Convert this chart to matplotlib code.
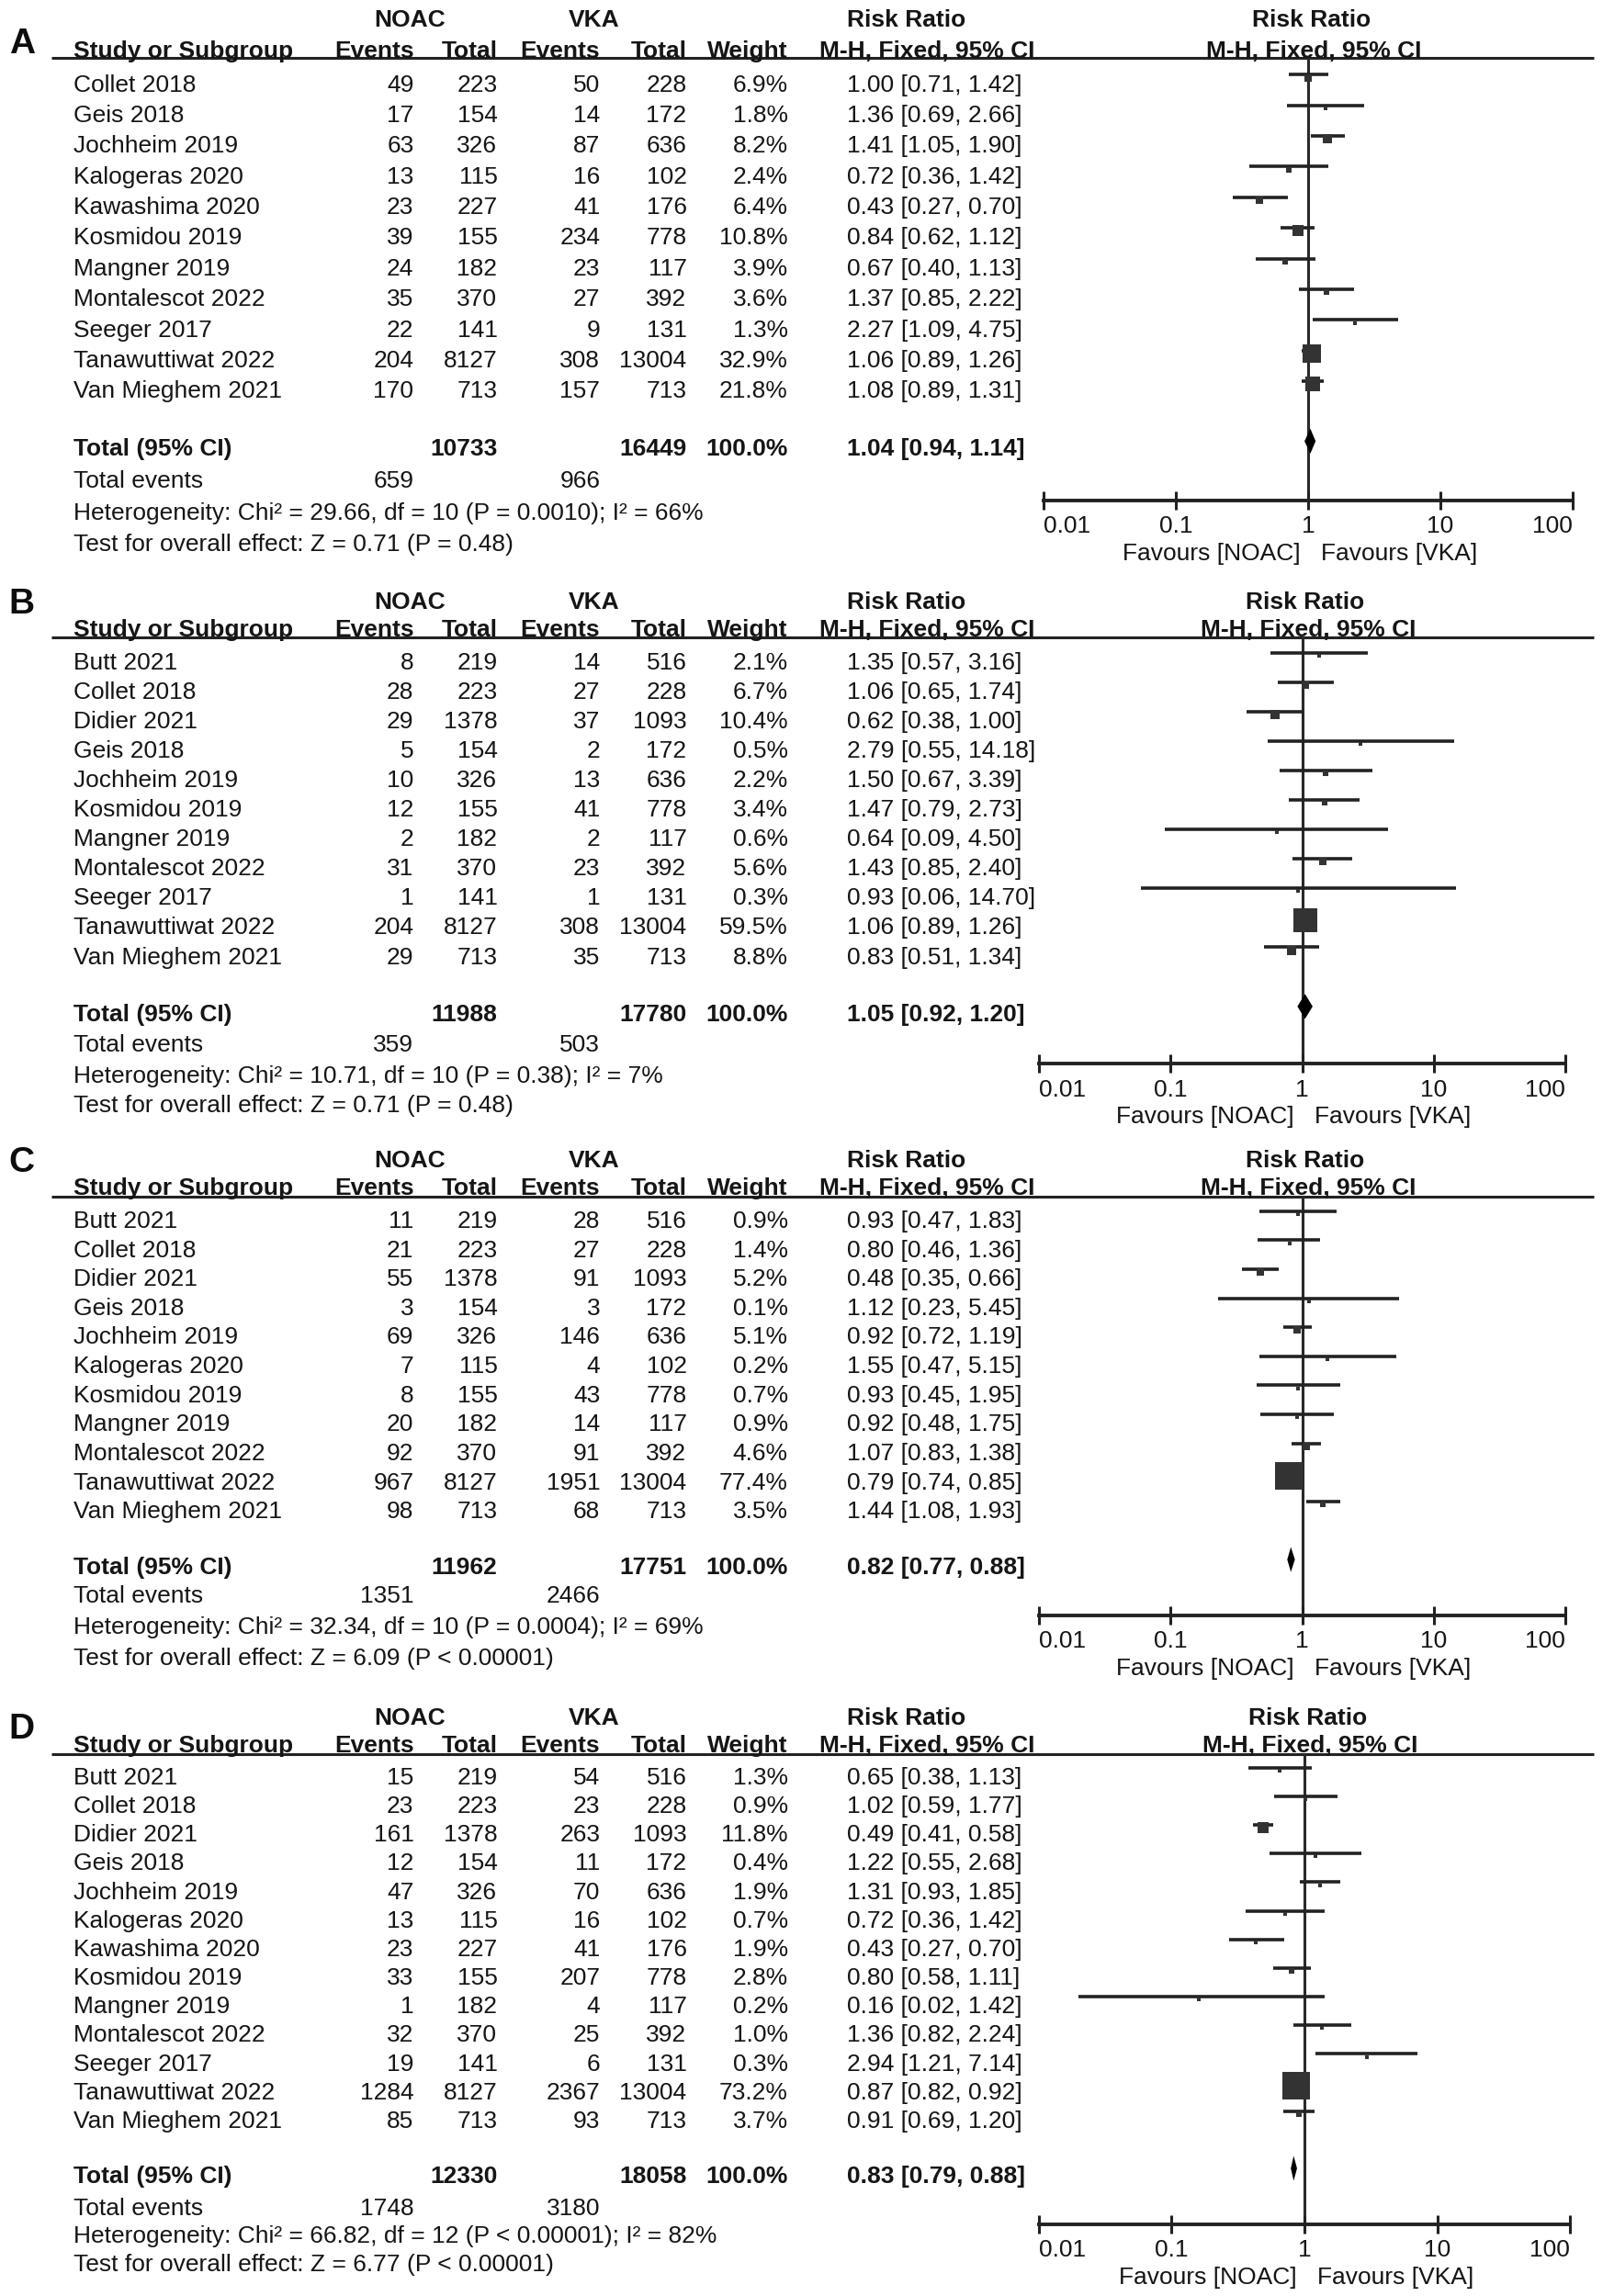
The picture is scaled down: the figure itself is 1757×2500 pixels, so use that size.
import numpy as np
import matplotlib
matplotlib.use("Agg")
import matplotlib.pyplot as plt

plt.rcParams['font.family'] = ['Liberation Sans', 'DejaVu Sans']

# ---------------- DATA ----------------
# Panel A
a_studies = ["Collet 2018", "Geis 2018", "Jochheim 2019", "Kalogeras 2020", "Kawashima 2020",
             "Kosmidou 2019", "Mangner 2019", "Montalescot 2022", "Seeger 2017",
             "Tanawuttiwat 2022", "Van Mieghem 2021"]
a_ev_noac = [49, 17, 63, 13, 23, 39, 24, 35, 22, 204, 170]
a_n_noac = [223, 154, 326, 115, 227, 155, 182, 370, 141, 8127, 713]
a_ev_vka = [50, 14, 87, 16, 41, 234, 23, 27, 9, 308, 157]
a_n_vka = [228, 172, 636, 102, 176, 778, 117, 392, 131, 13004, 713]
a_weight = [6.9, 1.8, 8.2, 2.4, 6.4, 10.8, 3.9, 3.6, 1.3, 32.9, 21.8]
a_rr = [1.00, 1.36, 1.41, 0.72, 0.43, 0.84, 0.67, 1.37, 2.27, 1.06, 1.08]
a_lo = [0.71, 0.69, 1.05, 0.36, 0.27, 0.62, 0.40, 0.85, 1.09, 0.89, 0.89]
a_hi = [1.42, 2.66, 1.90, 1.42, 0.70, 1.12, 1.13, 2.22, 4.75, 1.26, 1.31]
a_total_n = [10733, 16449]
a_total_ev = [659, 966]
a_total_rr = [1.04, 0.94, 1.14]
a_het = "Heterogeneity: Chi² = 29.66, df = 10 (P = 0.0010); I² = 66%"
a_test = "Test for overall effect: Z = 0.71 (P = 0.48)"

# Panel B
b_studies = ["Butt 2021", "Collet 2018", "Didier 2021", "Geis 2018", "Jochheim 2019",
             "Kosmidou 2019", "Mangner 2019", "Montalescot 2022", "Seeger 2017",
             "Tanawuttiwat 2022", "Van Mieghem 2021"]
b_ev_noac = [8, 28, 29, 5, 10, 12, 2, 31, 1, 204, 29]
b_n_noac = [219, 223, 1378, 154, 326, 155, 182, 370, 141, 8127, 713]
b_ev_vka = [14, 27, 37, 2, 13, 41, 2, 23, 1, 308, 35]
b_n_vka = [516, 228, 1093, 172, 636, 778, 117, 392, 131, 13004, 713]
b_weight = [2.1, 6.7, 10.4, 0.5, 2.2, 3.4, 0.6, 5.6, 0.3, 59.5, 8.8]
b_rr = [1.35, 1.06, 0.62, 2.79, 1.50, 1.47, 0.64, 1.43, 0.93, 1.06, 0.83]
b_lo = [0.57, 0.65, 0.38, 0.55, 0.67, 0.79, 0.09, 0.85, 0.06, 0.89, 0.51]
b_hi = [3.16, 1.74, 1.00, 14.18, 3.39, 2.73, 4.50, 2.40, 14.70, 1.26, 1.34]
b_total_n = [11988, 17780]
b_total_ev = [359, 503]
b_total_rr = [1.05, 0.92, 1.20]
b_het = "Heterogeneity: Chi² = 10.71, df = 10 (P = 0.38); I² = 7%"
b_test = "Test for overall effect: Z = 0.71 (P = 0.48)"

# Panel C
c_studies = ["Butt 2021", "Collet 2018", "Didier 2021", "Geis 2018", "Jochheim 2019",
             "Kalogeras 2020", "Kosmidou 2019", "Mangner 2019", "Montalescot 2022",
             "Tanawuttiwat 2022", "Van Mieghem 2021"]
c_ev_noac = [11, 21, 55, 3, 69, 7, 8, 20, 92, 967, 98]
c_n_noac = [219, 223, 1378, 154, 326, 115, 155, 182, 370, 8127, 713]
c_ev_vka = [28, 27, 91, 3, 146, 4, 43, 14, 91, 1951, 68]
c_n_vka = [516, 228, 1093, 172, 636, 102, 778, 117, 392, 13004, 713]
c_weight = [0.9, 1.4, 5.2, 0.1, 5.1, 0.2, 0.7, 0.9, 4.6, 77.4, 3.5]
c_rr = [0.93, 0.80, 0.48, 1.12, 0.92, 1.55, 0.93, 0.92, 1.07, 0.79, 1.44]
c_lo = [0.47, 0.46, 0.35, 0.23, 0.72, 0.47, 0.45, 0.48, 0.83, 0.74, 1.08]
c_hi = [1.83, 1.36, 0.66, 5.45, 1.19, 5.15, 1.95, 1.75, 1.38, 0.85, 1.93]
c_total_n = [11962, 17751]
c_total_ev = [1351, 2466]
c_total_rr = [0.82, 0.77, 0.88]
c_het = "Heterogeneity: Chi² = 32.34, df = 10 (P = 0.0004); I² = 69%"
c_test = "Test for overall effect: Z = 6.09 (P < 0.00001)"

# Panel D
d_studies = ["Butt 2021", "Collet 2018", "Didier 2021", "Geis 2018", "Jochheim 2019",
             "Kalogeras 2020", "Kawashima 2020", "Kosmidou 2019", "Mangner 2019",
             "Montalescot 2022", "Seeger 2017", "Tanawuttiwat 2022", "Van Mieghem 2021"]
d_ev_noac = [15, 23, 161, 12, 47, 13, 23, 33, 1, 32, 19, 1284, 85]
d_n_noac = [219, 223, 1378, 154, 326, 115, 227, 155, 182, 370, 141, 8127, 713]
d_ev_vka = [54, 23, 263, 11, 70, 16, 41, 207, 4, 25, 6, 2367, 93]
d_n_vka = [516, 228, 1093, 172, 636, 102, 176, 778, 117, 392, 131, 13004, 713]
d_weight = [1.3, 0.9, 11.8, 0.4, 1.9, 0.7, 1.9, 2.8, 0.2, 1.0, 0.3, 73.2, 3.7]
d_rr = [0.65, 1.02, 0.49, 1.22, 1.31, 0.72, 0.43, 0.80, 0.16, 1.36, 2.94, 0.87, 0.91]
d_lo = [0.38, 0.59, 0.41, 0.55, 0.93, 0.36, 0.27, 0.58, 0.02, 0.82, 1.21, 0.82, 0.69]
d_hi = [1.13, 1.77, 0.58, 2.68, 1.85, 1.42, 0.70, 1.11, 1.42, 2.24, 7.14, 0.92, 1.20]
d_total_n = [12330, 18058]
d_total_ev = [1748, 3180]
d_total_rr = [0.83, 0.79, 0.88]
d_het = "Heterogeneity: Chi² = 66.82, df = 12 (P < 0.00001); I² = 82%"
d_test = "Test for overall effect: Z = 6.77 (P < 0.00001)"

tick_vals = [0.01, 0.1, 1, 10, 100]
tick_labels = ["0.01", "0.1", "1", "10", "100"]

panels = [
    ("A", a_studies, a_ev_noac, a_n_noac, a_ev_vka, a_n_vka, a_weight, a_rr, a_lo, a_hi,
     a_total_n, a_total_ev, a_total_rr, a_het, a_test),
    ("B", b_studies, b_ev_noac, b_n_noac, b_ev_vka, b_n_vka, b_weight, b_rr, b_lo, b_hi,
     b_total_n, b_total_ev, b_total_rr, b_het, b_test),
    ("C", c_studies, c_ev_noac, c_n_noac, c_ev_vka, c_n_vka, c_weight, c_rr, c_lo, c_hi,
     c_total_n, c_total_ev, c_total_rr, c_het, c_test),
    ("D", d_studies, d_ev_noac, d_n_noac, d_ev_vka, d_n_vka, d_weight, d_rr, d_lo, d_hi,
     d_total_n, d_total_ev, d_total_rr, d_het, d_test),
]

# ---------------- LAYOUT (reference units: 1100 x 1565) ----------------
W, H = 1100.0, 1565.0
layout = [
    dict(gh=12.5, ch=33.4, line=39.5, row0=56.4, step=20.9, total=304.7, tev=326.7,
         het=348.6, test=369.4, axis=341.0, fl=711.0, fr=1072.0, let=36.0),
    dict(gh=409.0, ch=428.0, line=434.5, row0=450.6, step=20.05, total=690.0, tev=711.0,
         het=732.0, test=752.0, axis=725.0, fl=708.0, fr=1067.0, let=418.0),
    dict(gh=790.0, ch=808.5, line=815.5, row0=831.0, step=19.8, total=1067.0, tev=1086.5,
         het=1108.0, test=1129.0, axis=1101.0, fl=708.0, fr=1067.0, let=799.0),
    dict(gh=1169.7, ch=1188.5, line=1195.5, row0=1210.3, step=19.52, total=1482.0, tev=1504.0,
         het=1523.0, test=1542.4, axis=1516.0, fl=708.0, fr=1070.0, let=1185.0),
]

FS = 19
TXT = "#151515"
MARK = "#333333"
BASE = 5.9   # baseline offset from text centre

X_NAME = 50
X_EV1 = 282
X_N1 = 339
X_EV2 = 409
X_N2 = 468
X_W = 537
X_CI = 577

fig = plt.figure(figsize=(17.57, 25.0), dpi=100)
bg = fig.add_axes([0, 0, 1, 1])
bg.set_xlim(0, W)
bg.set_ylim(H, 0)
bg.axis("off")


def t(x, y, s, ha="left", bold=False, size=FS):
    bg.text(x, y + BASE, s, ha=ha, va="baseline", fontsize=size,
            fontweight="bold" if bold else "normal", color=TXT)


for (letter, studies, ev1, n1, ev2, n2, wt, rr, lo, hi, tot_n, tot_ev, tot_rr, het, test), L in zip(panels, layout):
    fc = L["fl"] + (L["fr"] - L["fl"]) / 2.0  # position of RR = 1
    # panel letter
    bg.text(6, L["let"], letter, ha="left", va="baseline", fontsize=28,
            fontweight="bold", color="#0d0d0d")
    # group headers
    t(279, L["gh"], "NOAC", ha="center", bold=True)
    t(405, L["gh"], "VKA", ha="center", bold=True)
    t(618, L["gh"], "Risk Ratio", ha="center", bold=True)
    t(fc + 2, L["gh"], "Risk Ratio", ha="center", bold=True)
    # column headers
    t(X_NAME, L["ch"], "Study or Subgroup", bold=True)
    t(X_EV1, L["ch"], "Events", ha="right", bold=True)
    t(X_N1, L["ch"], "Total", ha="right", bold=True)
    t(X_EV2, L["ch"], "Events", ha="right", bold=True)
    t(X_N2, L["ch"], "Total", ha="right", bold=True)
    t(X_W, L["ch"], "Weight", ha="right", bold=True)
    t(632, L["ch"], "M-H, Fixed, 95% CI", ha="center", bold=True)
    t(fc + 4, L["ch"], "M-H, Fixed, 95% CI", ha="center", bold=True)
    bg.plot([35, 1086], [L["line"], L["line"]], color="#222222", lw=2.2,
            solid_capstyle="butt")

    # study rows
    ys = [L["row0"] + i * L["step"] for i in range(len(studies))]
    for y, s, e1, m1, e2, m2, w, r, l, h in zip(ys, studies, ev1, n1, ev2, n2, wt, rr, lo, hi):
        t(X_NAME, y, s)
        t(X_EV1, y, str(e1), ha="right")
        t(X_N1, y, str(m1), ha="right")
        t(X_EV2, y, str(e2), ha="right")
        t(X_N2, y, str(m2), ha="right")
        t(X_W, y, "%.1f%%" % w, ha="right")
        t(X_CI, y, "%.2f [%.2f, %.2f]" % (r, l, h))

    # totals
    t(X_NAME, L["total"], "Total (95% CI)", bold=True)
    t(X_N1, L["total"], str(tot_n[0]), ha="right", bold=True)
    t(X_N2, L["total"], str(tot_n[1]), ha="right", bold=True)
    t(X_W, L["total"], "100.0%", ha="right", bold=True)
    t(X_CI, L["total"], "%.2f [%.2f, %.2f]" % tuple(tot_rr), bold=True)
    t(X_NAME, L["tev"], "Total events")
    t(X_EV1, L["tev"], str(tot_ev[0]), ha="right")
    t(X_EV2, L["tev"], str(tot_ev[1]), ha="right")
    t(X_NAME, L["het"], het)
    t(X_NAME, L["test"], test)

    # forest axes
    ax = fig.add_axes([L["fl"] / W, 1 - L["axis"] / H, (L["fr"] - L["fl"]) / W,
                       (L["axis"] - L["line"]) / H])
    ax.set_xscale("log")
    ax.set_xlim(0.01, 100)
    ax.set_ylim(L["axis"], L["line"])
    ax.patch.set_visible(False)
    for sp in ["top", "left", "right"]:
        ax.spines[sp].set_visible(False)
    ax.spines["bottom"].set_linewidth(2.8)
    ax.spines["bottom"].set_color("#222222")
    ax.set_yticks([])
    ax.set_xticks(tick_vals)
    ax.set_xticklabels(tick_labels, fontsize=FS, color=TXT)
    ax.xaxis.set_minor_locator(matplotlib.ticker.NullLocator())
    ax.tick_params(axis="x", direction="inout", length=14, width=2.2, color="#222222", pad=5.0)
    labs = ax.get_xticklabels()
    labs[0].set_ha("left")
    labs[-1].set_ha("right")
    ax.axvline(1, color="#2a2a2a", lw=2.2, zorder=1)

    yl = [y - 5.5 for y in ys]
    ax.hlines(yl, lo, hi, color="#222222", lw=2.6, zorder=2)
    for y, r, w in zip(yl, rr, wt):
        ax.plot([r], [y + 2.0], marker="s", markersize=max(2.45 * np.sqrt(w), 2.2),
                color=MARK, markeredgewidth=0, zorder=3)
    yd = L["total"] - 4.0
    hd = 8.5
    ax.fill([tot_rr[1], tot_rr[0], tot_rr[2], tot_rr[0]], [yd, yd - hd, yd, yd + hd],
            color="#000000", lw=0, zorder=3)

    # favours labels
    fy = L["axis"] + 35
    t(fc - 5.5, fy, "Favours [NOAC]", ha="right")
    t(fc + 8.5, fy, "Favours [VKA]", ha="left")

fig.savefig("out.png", dpi=100, facecolor="white")
